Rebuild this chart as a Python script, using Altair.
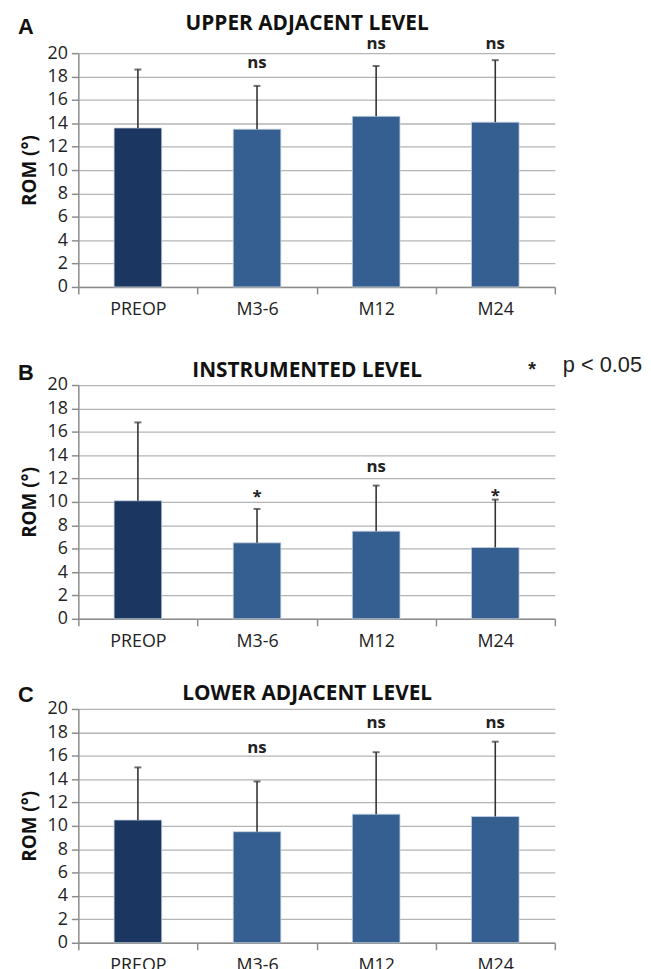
import altair as alt
import pandas as pd

categories = ["PREOP", "M3-6", "M12", "M24"]
colors = ["#1b3660", "#355f90", "#355f90", "#355f90"]

upper_mean = [13.6, 13.5, 14.6, 14.1]
upper_top = [18.6, 17.2, 18.9, 19.4]
upper_sig = ["", "ns", "ns", "ns"]
upper_sig_y = [None, 18.7, 20.35, 20.35]

instr_mean = [10.1, 6.5, 7.5, 6.1]
instr_top = [16.8, 9.4, 11.4, 10.2]
instr_sig = ["", "*", "ns", "*"]
instr_sig_y = [None, 10.0, 12.6, 10.1]

lower_mean = [10.5, 9.5, 11.0, 10.8]
lower_top = [15.0, 13.8, 16.3, 17.2]
lower_sig = ["", "ns", "ns", "ns"]
lower_sig_y = [None, 16.2, 18.4, 18.4]

letters = ["A", "B", "C"]
titles = ["UPPER ADJACENT LEVEL", "INSTRUMENTED LEVEL", "LOWER ADJACENT LEVEL"]
legend_star = "*"
legend_text = "p < 0.05"

W, H = 481, 236
FONT = "Open Sans"


def panel(mean, top, sig, sig_y, letter, title, letter_y, title_y, legend=False):
    df = pd.DataFrame({"cat": categories, "mean": mean, "top": top,
                       "sig": sig, "sig_y": sig_y})
    x_axis = alt.Axis(title=None, labelAngle=0, tickBand="extent", tickSize=7,
                      labelPadding=7, grid=False, domainColor="#8c8c8c",
                      tickColor="#8c8c8c", domainWidth=1.5, tickWidth=1.5)
    x = alt.X("cat:N", sort=categories,
              scale=alt.Scale(paddingInner=0, paddingOuter=0), axis=x_axis)
    y_axis = alt.Axis(title="ROM (°)", values=list(range(0, 21, 2)), tickSize=7,
                      grid=True, gridColor="#b5b5b5", gridWidth=1.3,
                      domainColor="#8c8c8c", tickColor="#8c8c8c",
                      domainWidth=1.5, tickWidth=1.5, labelPadding=4,
                      titlePadding=8)
    yscale = alt.Scale(domain=[0, 20])

    def Y(field):
        return alt.Y(field, scale=yscale, axis=y_axis)

    base = alt.Chart(df)
    bars = base.mark_bar(width=alt.RelativeBandSize(0.4), stroke="#c9d3df",
                         strokeWidth=0.8).encode(
        x=x,
        y=Y("mean:Q"),
        color=alt.Color("cat:N", scale=alt.Scale(domain=categories, range=colors),
                        legend=None),
    )
    err = base.mark_rule(color="#333333", strokeWidth=1.6).encode(
        x=x, y=Y("mean:Q"), y2="top:Q")
    cap = base.mark_tick(color="#333333", size=7, thickness=2,
                         orient="horizontal").encode(
        x=x, y=Y("top:Q"))
    sigt = base.transform_filter("datum.sig != ''").mark_text(
        font=FONT, fontWeight="bold", fontSize=17, color="#222222",
        baseline="alphabetic").encode(
        x=x, y=Y("sig_y:Q"), text="sig:N")
    let = alt.Chart(pd.DataFrame({"t": [letter]})).mark_text(
        font="Liberation Sans", fontWeight="bold", fontSize=22, color="#111111",
        align="left", baseline="alphabetic").encode(
        x=alt.value(-61), y=alt.value(letter_y), text="t:N")
    tit = alt.Chart(pd.DataFrame({"t": [title]})).mark_text(
        font=FONT, fontWeight="bold", fontSize=21, color="#111111",
        align="center", baseline="alphabetic").encode(
        x=alt.value(231), y=alt.value(title_y), text="t:N")
    layers = [bars, err, cap, sigt, let, tit]
    if legend:
        star = alt.Chart(pd.DataFrame({"t": [legend_star]})).mark_text(
            font="Liberation Sans", fontWeight="bold", fontSize=20, color="#222222",
            align="center", baseline="alphabetic").encode(
            x=alt.value(458), y=alt.value(-9), text="t:N")
        ptxt = alt.Chart(pd.DataFrame({"t": [legend_text]})).mark_text(
            font="Liberation Sans", fontSize=22, color="#222222",
            align="left", baseline="alphabetic").encode(
            x=alt.value(489), y=alt.value(-13), text="t:N")
        layers += [star, ptxt]
    return alt.layer(*layers).properties(width=W, height=H)


pA = panel(upper_mean, upper_top, upper_sig, upper_sig_y, letters[0], titles[0], -19, -23)
pB = panel(instr_mean, instr_top, instr_sig, instr_sig_y, letters[1], titles[1], -5, -8,
           legend=True)
pC = panel(lower_mean, lower_top, lower_sig, lower_sig_y, letters[2], titles[2], -7, -9)

chart = alt.vconcat(pA, alt.vconcat(pB, pC, spacing=33), spacing=36).configure_view(
    stroke=None).configure_axis(
    labelFont=FONT, labelFontSize=18, labelColor="#222222",
    titleFont=FONT, titleFontSize=19, titleFontWeight="bold", titleColor="#111111",
).properties(padding={"left": 10, "top": 1, "right": 0, "bottom": 0},
             background="white")

chart.save("out.html", embed_options={"renderer": "svg", "actions": False})
